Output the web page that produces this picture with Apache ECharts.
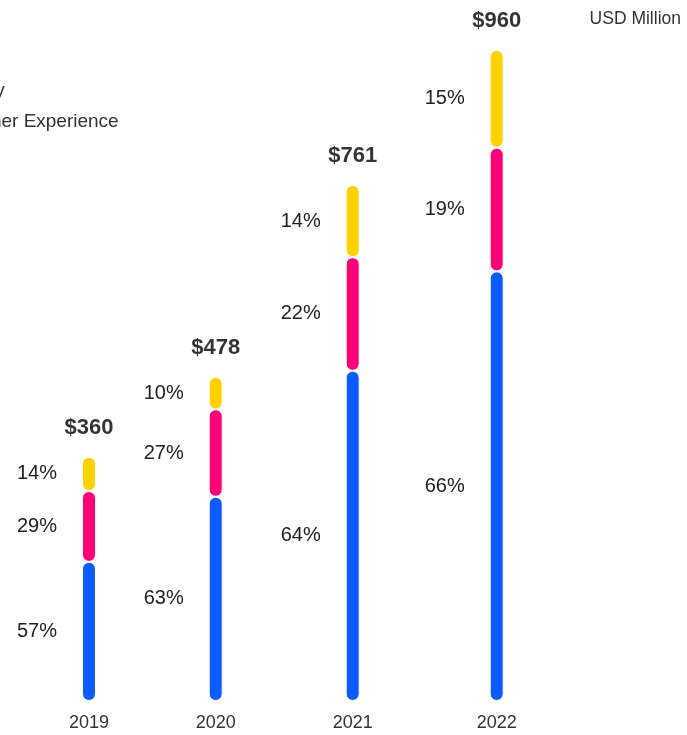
<!DOCTYPE html>
<html>
<head>
<meta charset="utf-8">
<script src="https://cdn.jsdelivr.net/npm/echarts@6/dist/echarts.min.js"></script>
<style>
  html, body { margin: 0; padding: 0; background: #ffffff; }
  #chart { width: 687px; height: 735px; }
</style>
</head>
<body>
<div id="chart"></div>
<script>
// Revenue by year (USD million) and the share of each segment
const years = ['2019', '2020', '2021', '2022'];
const totals = [360, 478, 761, 960];
const segments = ['Cloud', 'Security', 'Customer Experience'];
const segmentColors = ['#0a5cff', '#ff0077', '#ffd100'];
// share (%) per segment, bottom to top of each stacked column
const cloudShare = [57, 63, 64, 66];
const securityShare = [29, 27, 22, 19];
const experienceShare = [14, 10, 14, 15];
const shares = [cloudShare, securityShare, experienceShare];

// horizontal centre of each column (px)
const columnCenters = [89, 215.7, 352.7, 496.7];
const gridWidth = 60;

const grids = [], xAxes = [], yAxes = [], series = [];

years.forEach((year, i) => {
  grids.push({ left: columnCenters[i] - gridWidth / 2, width: gridWidth, top: 50, bottom: 34 });
  xAxes.push({
    type: 'category', gridIndex: i, data: [year],
    axisLine: { show: false }, axisTick: { show: false }, splitLine: { show: false },
    axisLabel: { color: '#333', fontSize: 18, fontFamily: 'Liberation Sans', margin: 13 }
  });
  yAxes.push({ type: 'value', gridIndex: i, min: 0, max: 960, show: false, splitLine: { show: false } });

  segments.forEach((seg, s) => {
    series.push({
      type: 'bar', name: seg, xAxisIndex: i, yAxisIndex: i, stack: 'total' + i,
      barWidth: 14,
      data: [{ value: totals[i] * shares[s][i] / 100, share: shares[s][i] }],
      itemStyle: { color: segmentColors[s], borderRadius: 7, borderColor: '#ffffff', borderWidth: 1 },
      label: {
        show: true, position: 'left', distance: 25,
        formatter: p => p.data.share + '%',
        color: '#222', fontSize: 20, fontFamily: 'Liberation Sans'
      },
      emphasis: { disabled: true }
    });
  });

  // total above each column
  series.push({
    type: 'scatter', name: 'total' + i, xAxisIndex: i, yAxisIndex: i,
    symbolSize: 0, data: [totals[i]],
    label: {
      show: true, position: 'top', distance: 18,
      formatter: p => '$' + p.value,
      color: '#000', fontSize: 22, fontWeight: 'bold', fontFamily: 'Liberation Sans'
    },
    emphasis: { disabled: true }
  });
});

const chart = echarts.init(document.getElementById('chart'), null, { renderer: 'canvas' });
chart.setOption({
  animation: false,
  backgroundColor: '#ffffff',
  color: segmentColors,
  grid: grids,
  xAxis: xAxes,
  yAxis: yAxes,
  legend: {
    data: segments.slice(),
    orient: 'vertical',
    left: -89,
    top: 45,
    itemGap: 12,
    itemWidth: 14,
    itemHeight: 14,
    icon: 'circle',
    textStyle: { color: '#333', fontSize: 19, fontFamily: 'Liberation Sans', lineHeight: 19 }
  },
  title: {
    text: 'USD Million',
    right: 1,
    top: 5,
    textStyle: { color: '#333', fontSize: 17.5, fontWeight: 'normal', fontFamily: 'Liberation Sans' }
  },
  series: series
});
</script>
</body>
</html>
